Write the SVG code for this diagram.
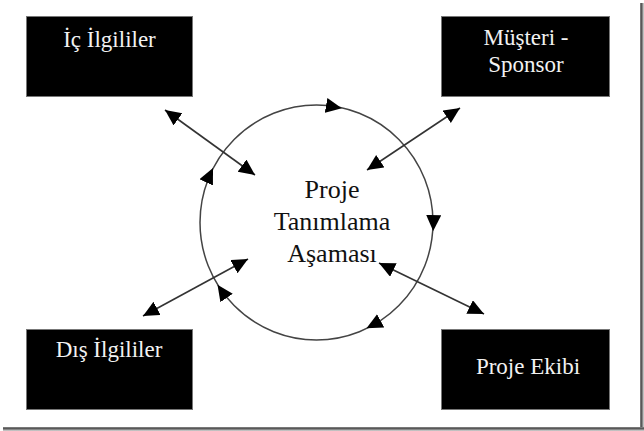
<svg xmlns="http://www.w3.org/2000/svg" width="644" height="431" viewBox="0 0 644 431">
<style>
.box{fill:#000;stroke:#777;stroke-width:1}
.bt{font-family:'Liberation Serif','Times New Roman',Times,'DejaVu Serif',serif;font-size:23px;fill:#f2f2f2;text-anchor:middle}
.ct{font-family:'Liberation Serif','Times New Roman',Times,'DejaVu Serif',serif;font-size:26px;fill:#111;text-anchor:middle}
.ln{stroke:#333;stroke-width:1.6;fill:none}
</style>
<defs>
<marker id="tri" markerUnits="userSpaceOnUse" markerWidth="18" markerHeight="16" refX="16" refY="7.5" orient="auto-start-reverse">
<path d="M0,0 L16,7.5 L0,15 z" fill="#000"/>
</marker>
<linearGradient id="shR" x1="0" y1="0" x2="1" y2="0"><stop offset="0" stop-color="#888"/><stop offset="0.4" stop-color="#555"/><stop offset="1" stop-color="#ddd"/></linearGradient>
<linearGradient id="shB" x1="0" y1="0" x2="0" y2="1"><stop offset="0" stop-color="#888"/><stop offset="0.4" stop-color="#555"/><stop offset="1" stop-color="#ddd"/></linearGradient>
</defs>
<rect x="0" y="0" width="644" height="431" fill="#fff"/>
<rect x="640" y="3" width="4" height="428" fill="url(#shR)"/>
<rect x="3" y="427" width="641" height="4" fill="url(#shB)"/>

<g id="center">
<ellipse cx="316.5" cy="222.5" rx="116.5" ry="117.5" fill="none" stroke="#444" stroke-width="1.5"/>
<text class="ct" x="332" y="198">Proje</text>
<text class="ct" x="332" y="230">Tanımlama</text>
<text class="ct" x="332" y="262">Aşaması</text>
</g>

<g id="ic-ilgililer">
<rect class="box" x="26.5" y="16.5" width="166" height="80"/>
<text class="bt" x="109.5" y="47">İç İlgililer</text>
</g>
<g id="musteri-sponsor">
<rect class="box" x="441.5" y="16.5" width="168" height="80"/>
<text class="bt" x="526" y="45">Müşteri -</text>
<text class="bt" x="526" y="72">Sponsor</text>
</g>
<g id="dis-ilgililer">
<rect class="box" x="26.5" y="329.5" width="166" height="80"/>
<text class="bt" x="109" y="357">Dış İlgililer</text>
</g>
<g id="proje-ekibi">
<rect class="box" x="441.5" y="329.5" width="168" height="80"/>
<text class="bt" x="528" y="373.5">Proje Ekibi</text>
</g>

<g id="connectors">
<path class="ln" d="M165,110 L255,175" marker-start="url(#tri)" marker-end="url(#tri)"/>
<path class="ln" d="M460,108 L367,170" marker-start="url(#tri)" marker-end="url(#tri)"/>
<path class="ln" d="M143,316 L248,259" marker-start="url(#tri)" marker-end="url(#tri)"/>
<path class="ln" d="M379,263 L484,314" marker-start="url(#tri)" marker-end="url(#tri)"/>
<path d="M331.8,106.5 L341.8,108.3" stroke="none" fill="none" marker-end="url(#tri)"/>
<path d="M433.5,220.9 L433.2,231.1" stroke="none" fill="none" marker-end="url(#tri)"/>
<path d="M375.5,323.5 L366.5,328.3" stroke="none" fill="none" marker-end="url(#tri)"/>
<path d="M223.3,293.2 L217.5,284.8" stroke="none" fill="none" marker-end="url(#tri)"/>
<path d="M208.6,177.2 L213,167.9" stroke="none" fill="none" marker-end="url(#tri)"/>
</g>
</svg>
